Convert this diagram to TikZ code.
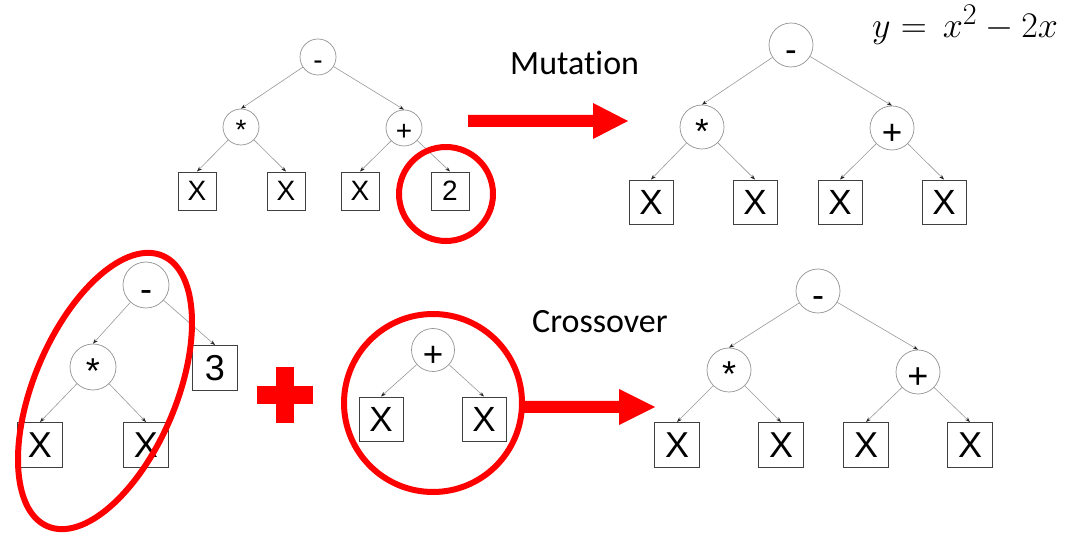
\documentclass[tikz,border=0pt]{standalone}
\usepackage{graphicx}
\usepackage{fontspec}
\usetikzlibrary{arrows.meta}
\newfontfamily\hvfont{Liberation Sans}
\newfontfamily\calfont[Ligatures=NoCommon]{Carlito}
\definecolor{tred}{RGB}{255,0,0}
\begin{document}
\begin{tikzpicture}[x=1pt,y=-1pt,
  op/.style 2 args={circle, draw=gray!85, line width=0.7pt, inner sep=0pt, minimum size=#1,
             text height=#2, text depth=0pt},
  leaf/.style={rectangle, draw=black!75, line width=0.9pt, inner sep=0pt, minimum size=#1},
  tedge/.style={draw=gray!80, line width=0.6pt, -{Stealth[length=5pt,width=3.6pt,black!85]}},
  fA/.style={font=\hvfont\fontsize{28}{30}\selectfont},
  fB/.style={font=\hvfont\fontsize{35}{37}\selectfont},
  fC/.style={font=\hvfont\fontsize{36}{38}\selectfont},
  redline/.style={draw=tred, line width=6pt},
  lbl/.style={font=\calfont\fontsize{34}{36}\selectfont, anchor=base west, inner sep=0pt}
]
\useasboundingbox[fill=white] (0,0) rectangle (1079,534);

% ---------- Tree 1 (top left) ----------
\begin{scope}[fA]
\node[op={36pt}{26pt}] (a1) at (318,57) {-};
\node[op={36pt}{26pt}] (a2) at (241,127) {*};
\node[op={36pt}{26pt}] (a3) at (404,128) {+};
\node[leaf=38pt] (a4) at (197,191) {X};
\node[leaf=38pt] (a5) at (286,191) {X};
\node[leaf=38pt] (a6) at (360,191) {X};
\node[leaf=38pt] (a7) at (450,191) {2};
\end{scope}
\draw[tedge] (a1) -- (a2.north);
\draw[tedge] (a1) -- (a3.north);
\draw[tedge] (a2) -- (a4.north);
\draw[tedge] (a2) -- (a5.north);
\draw[tedge] (a3) -- (a6.north);
\draw[tedge] (a3) -- (a7.north);

% ---------- Tree 2 (top right) ----------
\begin{scope}[fB]
\node[op={44pt}{33pt}] (b1) at (791,45) {-};
\node[op={44pt}{33pt}] (b2) at (702,127) {*};
\node[op={44pt}{33pt}] (b3) at (892,128) {+};
\node[leaf=44pt] (b4) at (651,202) {X};
\node[leaf=44pt] (b5) at (755,202) {X};
\node[leaf=44pt] (b6) at (840,202) {X};
\node[leaf=44pt] (b7) at (944,202) {X};
\end{scope}
\draw[tedge] (b1) -- (b2.north);
\draw[tedge] (b1) -- (b3.north);
\draw[tedge] (b2) -- (b4.north);
\draw[tedge] (b2) -- (b5.north);
\draw[tedge] (b3) -- (b6.north);
\draw[tedge] (b3) -- (b7.north);

% ---------- Tree 3 (bottom left) ----------
\begin{scope}[fC]
\node[op={46pt}{34pt}] (c1) at (146,285) {-};
\node[op={46pt}{34pt}] (c2) at (93,367) {*};
\node[leaf=45pt] (c3) at (215,368) {3};
\node[leaf=45pt] (c4) at (40,445) {X};
\node[leaf=45pt] (c5) at (146,445) {X};
\end{scope}
\draw[tedge] (c1) -- (c2.north);
\draw[tedge] (c1) -- (c3.north);
\draw[tedge] (c2) -- (c4.north);
\draw[tedge] (c2) -- (c5.north);

% ---------- Tree 4 (bottom middle) ----------
\begin{scope}[fB]
\node[op={43pt}{33pt}] (d1) at (433,350) {+};
\node[leaf=44pt] (d2) at (381,419) {X};
\node[leaf=44pt] (d3) at (484,419) {X};
\end{scope}
\draw[tedge] (d1) -- (d2.north);
\draw[tedge] (d1) -- (d3.north);

% ---------- Tree 5 (bottom right) ----------
\begin{scope}[fC]
\node[op={44pt}{34pt}] (e1) at (818,291) {-};
\node[op={44pt}{34pt}] (e2) at (729,370) {*};
\node[op={44pt}{34pt}] (e3) at (918,372) {+};
\node[leaf=45pt] (e4) at (677,445) {X};
\node[leaf=45pt] (e5) at (781,445) {X};
\node[leaf=45pt] (e6) at (866,445) {X};
\node[leaf=45pt] (e7) at (970,445) {X};
\end{scope}
\draw[tedge] (e1) -- (e2.north);
\draw[tedge] (e1) -- (e3.north);
\draw[tedge] (e2) -- (e4.north);
\draw[tedge] (e2) -- (e5.north);
\draw[tedge] (e3) -- (e6.north);
\draw[tedge] (e3) -- (e7.north);

% ---------- Red marks ----------
\draw[redline] (446,194) circle [radius=47];
\draw[redline] (105,391) ellipse [x radius=71, y radius=147, rotate=-23];
\draw[redline] (433,403) circle [radius=89];
% plus sign
\fill[tred] (276,367) rectangle (294,423);
\fill[tred] (257,386) rectangle (313,404);
% mutation arrow
\fill[tred] (468,115) -- (593,115) -- (593,103) -- (628,121) -- (593,139) -- (593,127) -- (468,127) -- cycle;
% crossover arrow
\fill[tred] (523,401) -- (619,401) -- (619,389) -- (655,407) -- (619,425) -- (619,413) -- (523,413) -- cycle;

% ---------- Labels ----------
\node[lbl] (mut) at (510,75) {Mutation};
\node[lbl] (cro) at (532,333) {Crossover};
\node[anchor=base west, inner sep=0pt, font=\Huge] (eq) at (872,38)
  {\scalebox{1.45}{$y =\, x^2 - 2x$}};
\end{tikzpicture}
\end{document}
